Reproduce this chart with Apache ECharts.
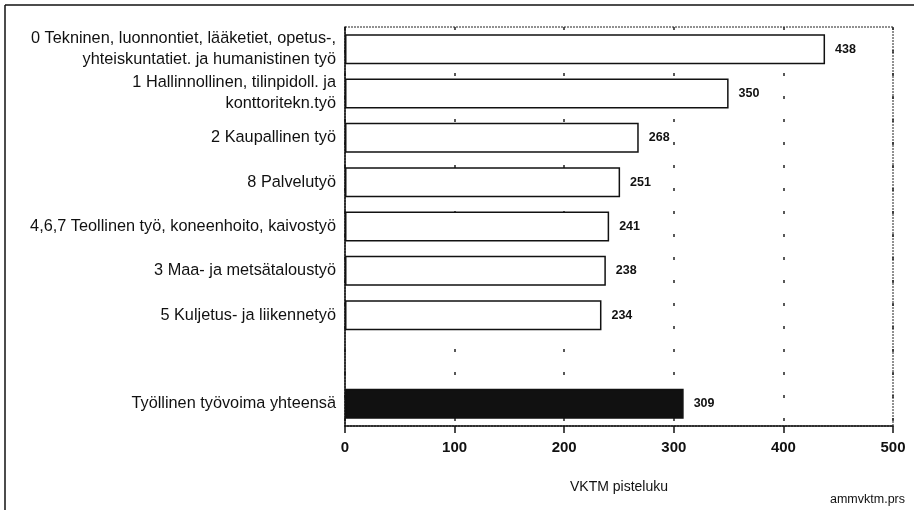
<!DOCTYPE html>
<html><head><meta charset="utf-8">
<script src="https://cdn.jsdelivr.net/npm/echarts@6/dist/echarts.min.js"></script>
<style>html,body{margin:0;padding:0;background:#fff}#c{width:914px;height:510px}</style>
</head><body><div id="c"></div>
<script>
const categories = [
  "0 Tekninen, luonnontiet, lääketiet, opetus-,\nyhteiskuntatiet. ja humanistinen työ",
  "1 Hallinnollinen, tilinpidoll. ja\nkonttoritekn.työ",
  "2 Kaupallinen työ",
  "8 Palvelutyö",
  "4,6,7 Teollinen työ, koneenhoito, kaivostyö",
  "3 Maa- ja metsätaloustyö",
  "5 Kuljetus- ja liikennetyö",
  "",
  "Työllinen työvoima yhteensä"
];
const values = [438, 350, 268, 251, 241, 238, 234, null, 309];
const totalIndex = 8;
const xTicks = [0, 100, 200, 300, 400, 500];
const xName = "VKTM pisteluku";
const footnote = "ammvktm.prs";

const FONT = "'Liberation Sans',sans-serif";
const chart = echarts.init(document.getElementById('c'), null, {renderer:'canvas'});
chart.setOption({
  animation:false,
  backgroundColor:'#fff',
  textStyle:{fontFamily:FONT},
  grid:{left:345, right:21, top:27, bottom:84, show:true, borderColor:'#222', borderWidth:1, borderType:[2,1], backgroundColor:'transparent'},
  xAxis:{type:'value', min:xTicks[0], max:xTicks[xTicks.length-1], interval:100,
    name:xName, nameLocation:'middle', nameGap:54,
    nameTextStyle:{fontFamily:FONT, fontSize:14, color:'#111'},
    axisLine:{show:true, lineStyle:{color:'#111', width:1.5}},
    axisTick:{show:true, length:7, lineStyle:{color:'#111', width:1.5}},
    axisLabel:{fontFamily:FONT, fontSize:15, fontWeight:'bold', color:'#111', margin:14},
    splitLine:{show:true, lineStyle:{color:'#222', width:1.5, type:[3,20]}}
  },
  yAxis:{type:'category', data:categories, inverse:true,
    axisLine:{show:true, lineStyle:{color:'#111', width:1.5}},
    axisTick:{show:false},
    axisLabel:{fontFamily:FONT, fontSize:16.3, color:'#111', margin:9, lineHeight:21, align:'right'}
  },
  series:[{type:'bar', barWidth:30,
    data: values.map((v,i)=>({value: v===null?'-':v,
      itemStyle:{color: i===totalIndex?'#111':'#fff', borderColor:'#111', borderWidth:1.5}})),
    label:{show:true, position:'right', distance:10, fontFamily:FONT, fontSize:12.5, fontWeight:'bold', color:'#111'}
  }],
  graphic:[
    {type:'line', shape:{x1:5,y1:5,x2:914,y2:5}, style:{stroke:'#111', lineWidth:1.5}},
    {type:'line', shape:{x1:5,y1:5,x2:5,y2:510}, style:{stroke:'#111', lineWidth:1.5}},
    {type:'text', right:9, top:493, style:{text:footnote, font:"12.5px "+FONT, fill:'#111'}}
  ]
});
</script></body></html>
